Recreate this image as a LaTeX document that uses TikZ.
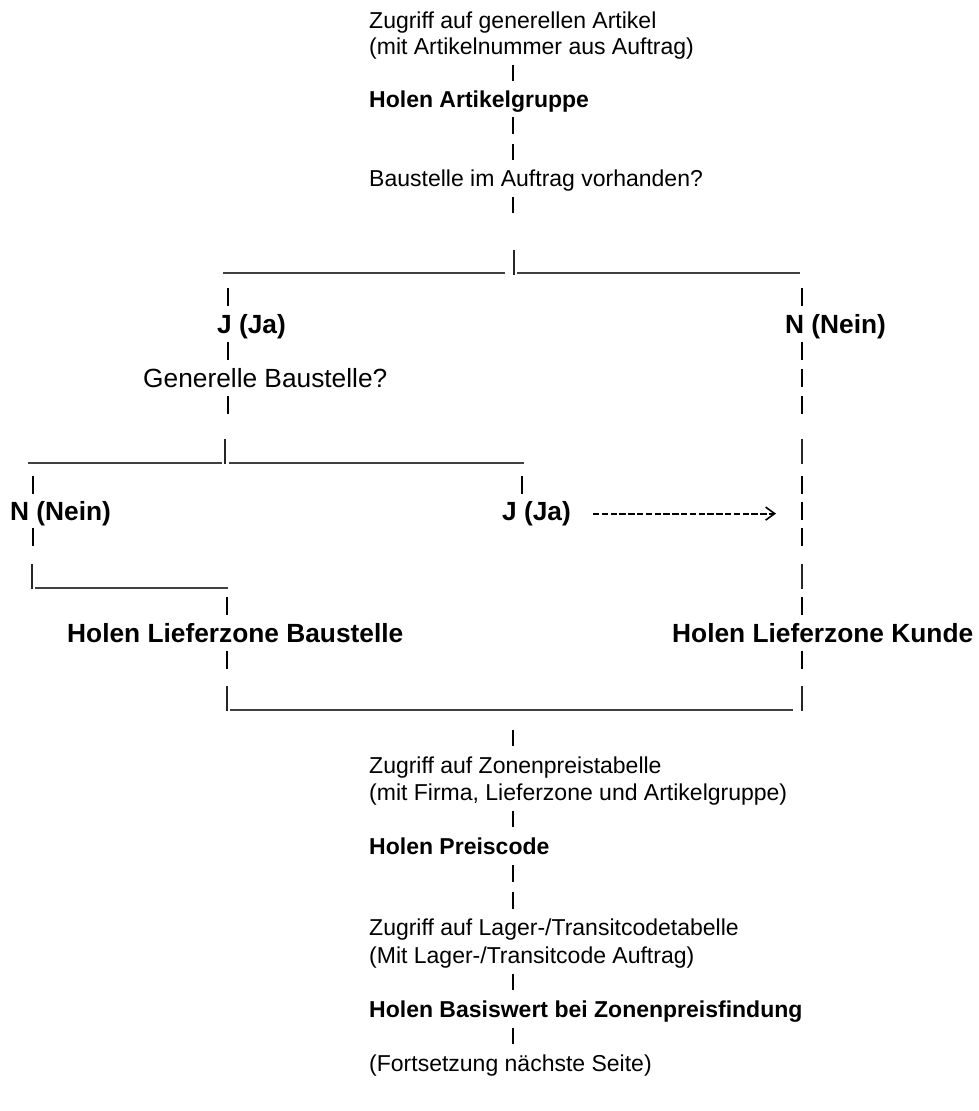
\documentclass[tikz,border=0pt]{standalone}
\usepackage{fontspec}
\setmainfont{Liberation Sans}
\usetikzlibrary{arrows.meta}
\begin{document}
\begin{tikzpicture}[x=1pt,y=-1pt,
  ctext/.style={anchor=base west,inner sep=0pt,font=\fontsize{23}{23}\selectfont},
  cbold/.style={ctext,font=\fontsize{23}{23}\selectfont\bfseries},
  btext/.style={anchor=base west,inner sep=0pt,font=\fontsize{26.3}{26.3}\selectfont},
  bbold/.style={btext,font=\fontsize{26.3}{26.3}\selectfont\bfseries},
  stem/.style={line width=2.6pt,black},
  pipe/.style={line width=1.3pt,black!85},
  rule/.style={line width=2pt,black!75},
  dasharrow/.style={line width=1.8pt,dash pattern=on 6.4pt off 2.4pt,
    -{Straight Barb[length=9pt,width=13pt,line width=1.6pt]}}]
\useasboundingbox (0,0) rectangle (978,1111);
\fill[white] (0,0) rectangle (978,1111);

% upper stack
\node[ctext] (zga) at (369,28.3) {Zugriff auf generellen Artikel};
\node[ctext] (mit) at (369,54.7) {(mit Artikelnummer aus Auftrag)};
\draw[stem] (513,64.6) -- (513,81.0);
\node[cbold] (hag) at (369,107.5) {Holen Artikelgruppe};
\draw[stem] (513,117.4) -- (513,133.8);
\draw[stem] (513,143.8) -- (513,160.2);
\node[ctext] (bau) at (369,186.7) {Baustelle im Auftrag vorhanden?};
\draw[stem] (513,196.6) -- (513,213.0);

% first fork
\draw[rule] (223,273.4) -- (505,273.4);
\draw[pipe] (514,249.8) -- (514,274.5);
\draw[rule] (517,273.4) -- (800,273.4);
\draw[stem] (228,287.6) -- (228,306.4);
\draw[stem] (802,287.6) -- (802,306.4);
\node[bbold] (ja1) at (217,333.5) {J (Ja)};
\node[bbold] (nein1) at (785,333.5) {N (Nein)};
\draw[stem] (228,341.6) -- (228,360.4);
\draw[stem] (802,341.6) -- (802,360.4);
\node[btext] (gen) at (143,387.5) {Generelle Baustelle?};
\draw[stem] (802,368.6) -- (802,387.4);
\draw[stem] (228,395.6) -- (228,414.4);
\draw[stem] (802,395.6) -- (802,414.4);

% second fork
\draw[rule] (28,463) -- (222,463);
\draw[pipe] (225,439.4) -- (225,464.1);
\draw[rule] (229,463) -- (524,463);
\draw[pipe] (802,439.4) -- (802,464.1);
\draw[stem] (33,475.6) -- (33,494.4);
\draw[stem] (522,475.6) -- (522,494.4);
\draw[stem] (802,475.6) -- (802,494.4);
\node[bbold] (nein2) at (10,520.5) {N (Nein)};
\node[bbold] (ja2) at (502,520.5) {J (Ja)};
\coordinate (arrS) at (593,513.6);
\coordinate (arrE) at (776,513.6);
\draw[dasharrow] (arrS) -- (arrE);
\draw[stem] (802,501.6) -- (802,520.4);
\draw[stem] (33,527.6) -- (33,546.4);
\draw[stem] (802,527.6) -- (802,546.4);
\draw[pipe] (32,564.4) -- (32,589.1);
\draw[rule] (35,588) -- (228,588);
\draw[pipe] (802,564.4) -- (802,589.1);
\draw[stem] (227,596.6) -- (227,615.4);
\draw[stem] (802,596.6) -- (802,615.4);
\node[bbold] (lzb) at (67,642.5) {Holen Lieferzone Baustelle};
\node[bbold] (lzk) at (672,642.5) {Holen Lieferzone Kunde};
\draw[stem] (227,650.6) -- (227,669.4);
\draw[stem] (802,650.6) -- (802,669.4);

% join
\draw[pipe] (227,686.4) -- (227,711.1);
\draw[rule] (230,710) -- (793,710);
\draw[pipe] (802,686.4) -- (802,711.1);
\draw[stem] (513,729.8) -- (513,746.2);

% lower stack
\node[ctext] (zzp) at (369,773.3) {Zugriff auf Zonenpreistabelle};
\node[ctext] (mfl) at (369,800.4) {(mit Firma, Lieferzone und Artikelgruppe)};
\draw[stem] (513,811.0) -- (513,827.4);
\node[cbold] (hpc) at (369,854.6) {Holen Preiscode};
\draw[stem] (513,865.2) -- (513,881.6);
\draw[stem] (513,892.3) -- (513,908.7);
\node[ctext] (zlt) at (369,935.9) {Zugriff auf Lager-/Transitcodetabelle};
\node[ctext] (mlt) at (369,963.0) {(Mit Lager-/Transitcode Auftrag)};
\draw[stem] (513,973.6) -- (513,990.0);
\node[cbold] (hbz) at (369,1017.2) {Holen Basiswert bei Zonenpreisfindung};
\draw[stem] (513,1027.8) -- (513,1044.2);
\node[ctext] (fns) at (369,1071.4) {(Fortsetzung nächste Seite)};
\end{tikzpicture}
\end{document}
